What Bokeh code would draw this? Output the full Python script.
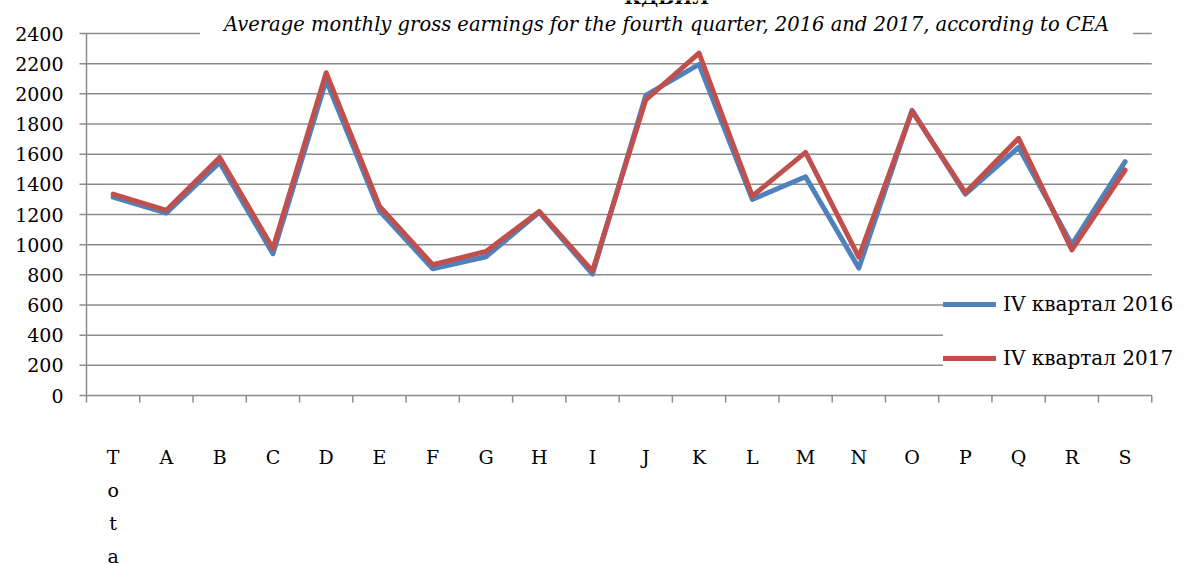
import numpy as np
from bokeh.plotting import figure
from bokeh.models import (FactorRange, Range1d, Label, ColumnDataSource, Legend, LegendItem, Dodge)
from bokeh.core.properties import value
from bokeh.transform import dodge
from bokeh.embed import file_html
from bokeh.resources import INLINE

categories = ["Total", "A", "B", "C", "D", "E", "F", "G", "H", "I",
              "J", "K", "L", "M", "N", "O", "P", "Q", "R", "S"]
category_labels = ["T\no\nt\na\nl", "A", "B", "C", "D", "E", "F", "G", "H", "I",
                   "J", "K", "L", "M", "N", "O", "P", "Q", "R", "S"]
q4_2016 = [1315, 1210, 1545, 940, 2090, 1225, 840, 920, 1215, 805,
           1990, 2195, 1300, 1450, 845, 1890, 1335, 1645, 1000, 1550]
q4_2017 = [1335, 1228, 1578, 975, 2140, 1255, 867, 955, 1220, 825,
           1960, 2270, 1322, 1612, 918, 1885, 1345, 1705, 965, 1495]
y_ticks = [0, 200, 400, 600, 800, 1000, 1200, 1400, 1600, 1800, 2000, 2200, 2400]
y_tick_labels = ["0", "200", "400", "600", "800", "1000", "1200", "1400", "1600",
                 "1800", "2000", "2200", "2400"]
series_names = ["IV квартал 2016", "IV квартал 2017"]
title_text = "Average monthly gross earnings for the fourth quarter, 2016 and 2017, according to CEA"
top_title_text = "КДБИЛ"

FONT = "DejaVu Serif"
GRID = "#8c8c8c"
BLUE = "#4F81BD"
RED = "#C0504D"

# ---- layout constants (pixels) ----
W, H = 1184, 564
PLOT_LEFT = 86          # x of the value axis
PLOT_TOP = 33           # y of the top gridline
PLOT_ZERO = 395         # y of the zero line
# the frame covers the whole canvas; one blank leading factor plus symmetric padding
# puts the first category band at PLOT_LEFT
band = (W - 2 * PLOT_LEFT) / (len(categories) - 1)
pad_bands = PLOT_LEFT / band - 1
n_factors = len(categories) + 1
range_pad = 2 * pad_bands / n_factors

y_max_tick = y_ticks[-1]
units_per_px = y_max_tick / (PLOT_ZERO - PLOT_TOP)
y_top = y_max_tick + PLOT_TOP * units_per_px
y_bottom = -(H - PLOT_ZERO) * units_per_px

p = figure(width=W, height=H,
           x_range=FactorRange(factors=[" "] + categories, range_padding=range_pad,
                               range_padding_units="percent"),
           y_range=Range1d(y_bottom, y_top),
           output_backend="svg", toolbar_location=None,
           x_axis_location=None, y_axis_location=None,
           min_border=0, min_border_left=0, min_border_right=0,
           min_border_top=0, min_border_bottom=0)
p.outline_line_color = None
p.background_fill_color = "white"
p.border_fill_color = "white"
p.grid.visible = False

left_edge = value(categories[0], transform=Dodge(value=-0.5, range=p.x_range))
right_edge = value(categories[-1], transform=Dodge(value=0.5, range=p.x_range))

# gridlines
ysrc = ColumnDataSource(dict(tick=y_ticks, label=y_tick_labels))
p.segment(x0=left_edge, x1=right_edge, y0="tick", y1="tick", source=ysrc,
          line_color=GRID, line_width=1.5)
# value axis line, ticks and labels
p.segment(x0=left_edge, x1=left_edge, y0=y_ticks[0], y1=y_ticks[-1],
          line_color=GRID, line_width=1.5)
p.ray(x=left_edge, y="tick", length=7, length_units="screen", angle=np.pi,
      source=ysrc, line_color=GRID, line_width=1.5)
p.text(x=left_edge, y="tick", text="label", source=ysrc, x_offset=-23,
       text_align="right", text_baseline="middle", text_font=value(FONT),
       text_font_size="19px", text_color="black")

# category axis ticks on band boundaries
csrc = ColumnDataSource(dict(cat=categories, label=category_labels))
p.ray(x=dodge("cat", -0.5, range=p.x_range), y=0, length=7, length_units="screen",
      angle=-np.pi / 2, source=csrc, line_color=GRID, line_width=1.5)
p.ray(x=right_edge, y=0, length=7, length_units="screen",
      angle=-np.pi / 2, line_color=GRID, line_width=1.5)
p.text(x="cat", y=0, text="label", source=csrc, y_offset=50,
       text_align="center", text_baseline="top", text_font=value(FONT),
       text_font_size="19px", text_line_height=1.5, text_color="black")

# series
src = ColumnDataSource(dict(cat=categories, y16=q4_2016, y17=q4_2017))
r16 = p.line("cat", "y16", source=src, line_color=BLUE, line_width=5,
             line_join="round", line_cap="round")
r17 = p.line("cat", "y17", source=src, line_color=RED, line_width=5,
             line_join="round", line_cap="round")

legend = Legend(items=[LegendItem(label=series_names[0], renderers=[r16]),
                       LegendItem(label=series_names[1], renderers=[r17])],
                location=(943, H - 370), orientation="vertical",
                glyph_width=53, glyph_height=20, label_height=20, spacing=30,
                label_standoff=7, padding=10, margin=0,
                border_line_color=None, background_fill_color="white", background_fill_alpha=1,
                label_text_font=FONT, label_text_font_size="20px", label_text_color="black")
p.add_layout(legend)

title = Label(x=666, y=H - 24, x_units="screen", y_units="screen", text=title_text,
              text_font=FONT, text_font_style="italic", text_font_size="19.5px",
              text_align="center", text_baseline="middle", text_color="black",
              background_fill_color="white", background_fill_alpha=1.0,
              padding=dict(left=24, right=24, top=12, bottom=12))
p.add_layout(title)

top_title = Label(x=666, y=H + 4, x_units="screen", y_units="screen",
                  text=top_title_text,
                  text_font=FONT, text_font_style="bold", text_font_size="19px",
                  text_align="center", text_baseline="alphabetic", text_color="black")
p.add_layout(top_title)

open("out.html", "w").write(file_html(p, INLINE))
